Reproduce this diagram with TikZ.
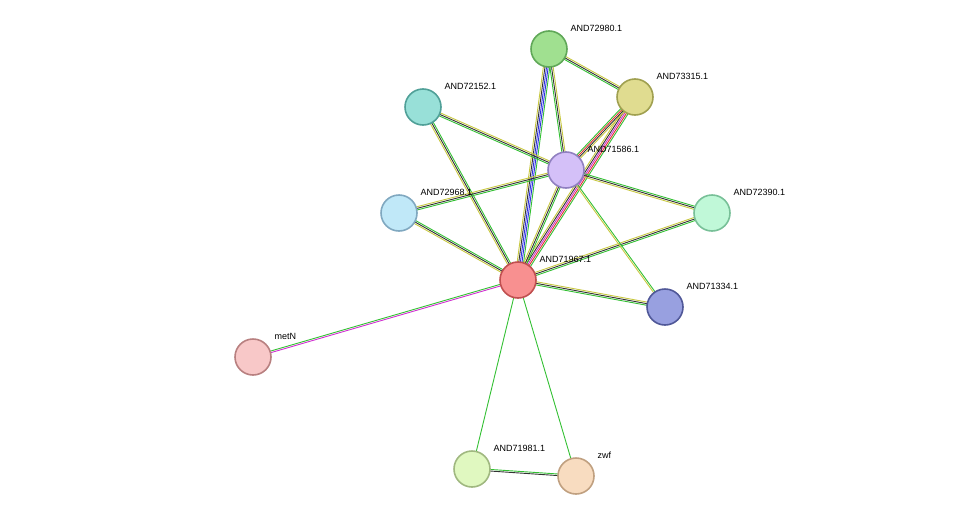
\documentclass[tikz,border=0pt]{standalone}
\usepackage{fontspec}
\setmainfont{Liberation Sans}
\usetikzlibrary{calc,backgrounds}
\definecolor{eG}{HTML}{33C033}
\definecolor{eY}{HTML}{C8C840}
\definecolor{eK}{HTML}{333333}
\definecolor{eB}{HTML}{3030E0}
\definecolor{eR}{HTML}{E03030}
\definecolor{eM}{HTML}{D030D0}
\newcommand\ed[4]{%
  \foreach \c [count=\i] in {#4} {%
    \pgfmathsetmacro\o{(\i-(#3+1)/2)*1.6}%
    \draw[\c, line width=0.9pt] ($(#1)!\o pt!90:(#2)$) -- ($(#2)!\o pt!-90:(#1)$);
  }}
\tikzset{
  prot/.style={circle, minimum size=36pt, inner sep=0pt, line width=1.6pt},
  lab/.style={font=\fontsize{9}{10}\selectfont, anchor=west}
}
\newcommand\prot[5]{%
  \definecolor{f#1}{HTML}{#4}\definecolor{d#1}{HTML}{#5}%
  \node[prot, fill=f#1, draw=d#1] (#1) at (#2) {};
  \node[lab] (l#1) at ($(#2)+(18,-21)$) {#3};}
\begin{document}
\begin{tikzpicture}[x=1pt,y=-1pt]
\useasboundingbox (0,0) rectangle (976,522);
\prot{a}{549,49}{AND72980.1}{A0E090}{60A858}
\prot{b}{635,97}{AND73315.1}{E0DC90}{A0A050}
\prot{c}{423,107}{AND72152.1}{98E0D8}{50A098}
\prot{d}{566,170}{AND71586.1}{D4C0F8}{9080C0}
\prot{e}{399,213}{AND72968.1}{C0E8F8}{80A8C0}
\prot{f}{712,213}{AND72390.1}{C0F8D8}{78C098}
\prot{g}{518,280}{AND71967.1}{F89090}{C05050}
\prot{h}{665,307}{AND71334.1}{98A0E0}{505898}
\prot{i}{253,357}{metN}{F8C8C8}{B88080}
\prot{j}{472,469}{AND71981.1}{E0F8C0}{A0B880}
\prot{k}{576,476}{zwf}{F8DCC0}{C0A080}
\begin{scope}[on background layer]
\ed{g}{a}{5}{eG,eB,eB,eK,eY}
\ed{g}{b}{5}{eG,eR,eM,eK,eY}
\ed{g}{c}{3}{eG,eK,eY}
\ed{g}{d}{3}{eG,eK,eY}
\ed{g}{e}{3}{eG,eK,eY}
\ed{g}{f}{3}{eG,eK,eY}
\ed{g}{h}{3}{eG,eK,eY}
\ed{g}{i}{2}{eG,eM}
\ed{g}{j}{1}{eG}
\ed{g}{k}{1}{eG}
\ed{j}{k}{2}{eK,eG}
\ed{a}{b}{3}{eG,eK,eY}
\ed{a}{d}{3}{eG,eK,eY}
\ed{b}{d}{4}{eG,eR,eK,eY}
\ed{c}{d}{3}{eG,eK,eY}
\ed{e}{d}{3}{eG,eK,eY}
\ed{f}{d}{3}{eG,eK,eY}
\ed{h}{d}{2}{eG,eY}
\end{scope}
\end{tikzpicture}
\end{document}
